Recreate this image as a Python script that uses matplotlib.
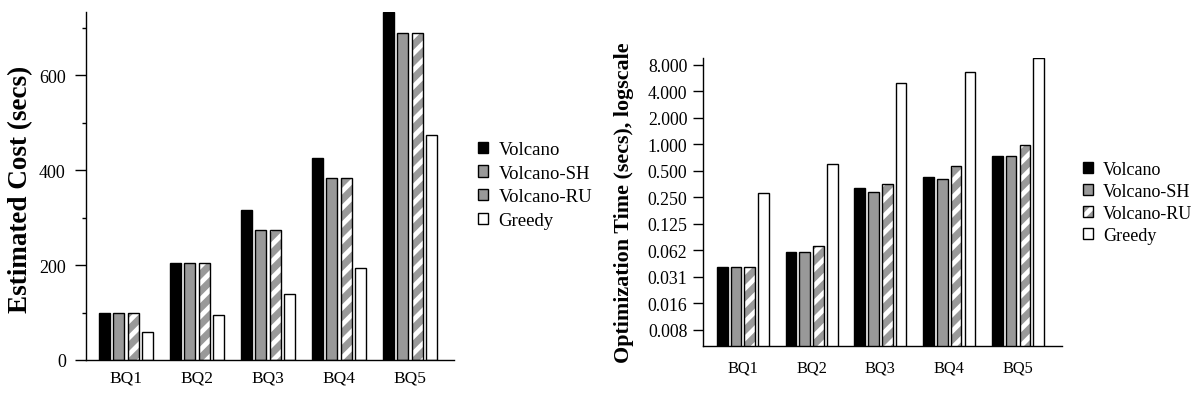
import matplotlib
matplotlib.use("Agg")
import matplotlib.pyplot as plt
from matplotlib.patches import Patch
from matplotlib.legend_handler import HandlerTuple
import numpy as np

# ---- data ----
queries = ["BQ1", "BQ2", "BQ3", "BQ4", "BQ5"]
series = ["Volcano", "Volcano-SH", "Volcano-RU", "Greedy"]

cost_volcano = [100, 205, 316, 425, 732]
cost_volcano_sh = [100, 205, 274, 383, 689]
cost_volcano_ru = [100, 205, 274, 383, 689]
cost_greedy = [60, 95, 140, 194, 474]

time_volcano = [0.040, 0.059, 0.32, 0.43, 0.73]
time_volcano_sh = [0.040, 0.059, 0.29, 0.40, 0.73]
time_volcano_ru = [0.040, 0.069, 0.35, 0.57, 0.97]
time_greedy = [0.28, 0.59, 5.0, 6.7, 9.5]

cost_ticks = [0, 200, 400, 600]
cost_minor_ticks = [100, 300, 500, 700]
time_ticks = [0.0078125, 0.015625, 0.03125, 0.0625, 0.125, 0.25, 0.5, 1, 2, 4, 8]
time_tick_labels = ["0.008", "0.016", "0.031", "0.062", "0.125", "0.250",
                    "0.500", "1.000", "2.000", "4.000", "8.000"]

# ---- style ----
plt.rcParams['font.family'] = ['Liberation Serif', 'DejaVu Serif']
plt.rcParams['hatch.linewidth'] = 3.4
GRAY = '#999999'

fig = plt.figure(figsize=(11.98, 4.02), dpi=100)
ax1 = fig.add_axes([86/1198, 1-361/402, (454-86)/1198, (361-13)/402])
ax2 = fig.add_axes([703/1198, 1-347/402, (1062-703)/1198, (347-59)/402])

x = np.arange(len(queries))
offsets = [-0.3, -0.1, 0.1, 0.3]
W = 0.155
LW = 1.0


def draw(ax, vals):
    v, sh, ru, gr = vals
    ax.bar(x + offsets[0], v, W, color='black', edgecolor='black', linewidth=LW, zorder=2)
    ax.bar(x + offsets[1], sh, W, color=GRAY, edgecolor='black', linewidth=LW, zorder=2)
    ax.bar(x + offsets[2], ru, W, color=GRAY, edgecolor='white', hatch='//', linewidth=0, zorder=2)
    ax.bar(x + offsets[2], ru, W, fill=False, edgecolor='black', linewidth=LW, zorder=3)
    ax.bar(x + offsets[3], gr, W, color='white', edgecolor='black', linewidth=LW, zorder=2)
    for s in ['top', 'right']:
        ax.spines[s].set_visible(False)
    ax.spines['left'].set_linewidth(1.0)
    ax.spines['bottom'].set_linewidth(1.0)
    ax.set_xticks(x)
    ax.set_xticklabels(queries)


draw(ax1, [cost_volcano, cost_volcano_sh, cost_volcano_ru, cost_greedy])
ax1.set_xlim(-0.563, 4.62)
ax1.set_ylim(0, 733)
ax1.set_yticks(cost_ticks)
ax1.set_yticks(cost_minor_ticks, minor=True)
ax1.tick_params(axis='y', which='major', length=8, width=1, pad=6.5, labelsize=13)
ax1.tick_params(axis='y', which='minor', length=3, width=1)
ax1.tick_params(axis='x', length=0, pad=7, labelsize=12.5)
ax1.set_ylabel("Estimated Cost (secs)", fontsize=19.5, fontweight='bold')
ax1.yaxis.set_label_coords(-0.144, 0.494)

draw(ax2, [time_volcano, time_volcano_sh, time_volcano_ru, time_greedy])
ax2.set_yscale('log', base=2)
ax2.set_xlim(-0.58, 4.64)
ax2.set_ylim(0.0051, 9.55)
ax2.set_yticks(time_ticks)
ax2.set_yticklabels(time_tick_labels)
ax2.yaxis.set_minor_locator(matplotlib.ticker.NullLocator())
ax2.tick_params(axis='y', which='major', length=7, width=1, pad=4.3, labelsize=12.8)
ax2.tick_params(axis='x', length=0, pad=10, labelsize=11.8)
ax2.set_ylabel("Optimization Time (secs), logscale", fontsize=15.8, fontweight='bold')
ax2.yaxis.set_label_coords(-0.192, 0.502)


def handles():
    return [
        Patch(facecolor='black', edgecolor='black', linewidth=LW),
        Patch(facecolor=GRAY, edgecolor='black', linewidth=LW),
        (Patch(facecolor=GRAY, edgecolor='white', hatch='/', linewidth=0),
         Patch(fill=False, edgecolor='black', linewidth=LW)),
        Patch(facecolor='white', edgecolor='black', linewidth=LW),
    ]


fig.legend(handles(), series, loc='center left', bbox_to_anchor=(478/1198, 1-186/402),
           frameon=False, fontsize=13.5, handlelength=0.55, handleheight=0.55,
           handletextpad=0.55, labelspacing=0.35, borderpad=0, borderaxespad=0,
           handler_map={tuple: HandlerTuple(ndivide=1)})
fig.legend(handles(), series, loc='center left', bbox_to_anchor=(1083/1198, 1-203.5/402),
           frameon=False, fontsize=13, handlelength=0.55, handleheight=0.55,
           handletextpad=0.55, labelspacing=0.28, borderpad=0, borderaxespad=0,
           handler_map={tuple: HandlerTuple(ndivide=1)})

fig.savefig("out.png", dpi=100)
